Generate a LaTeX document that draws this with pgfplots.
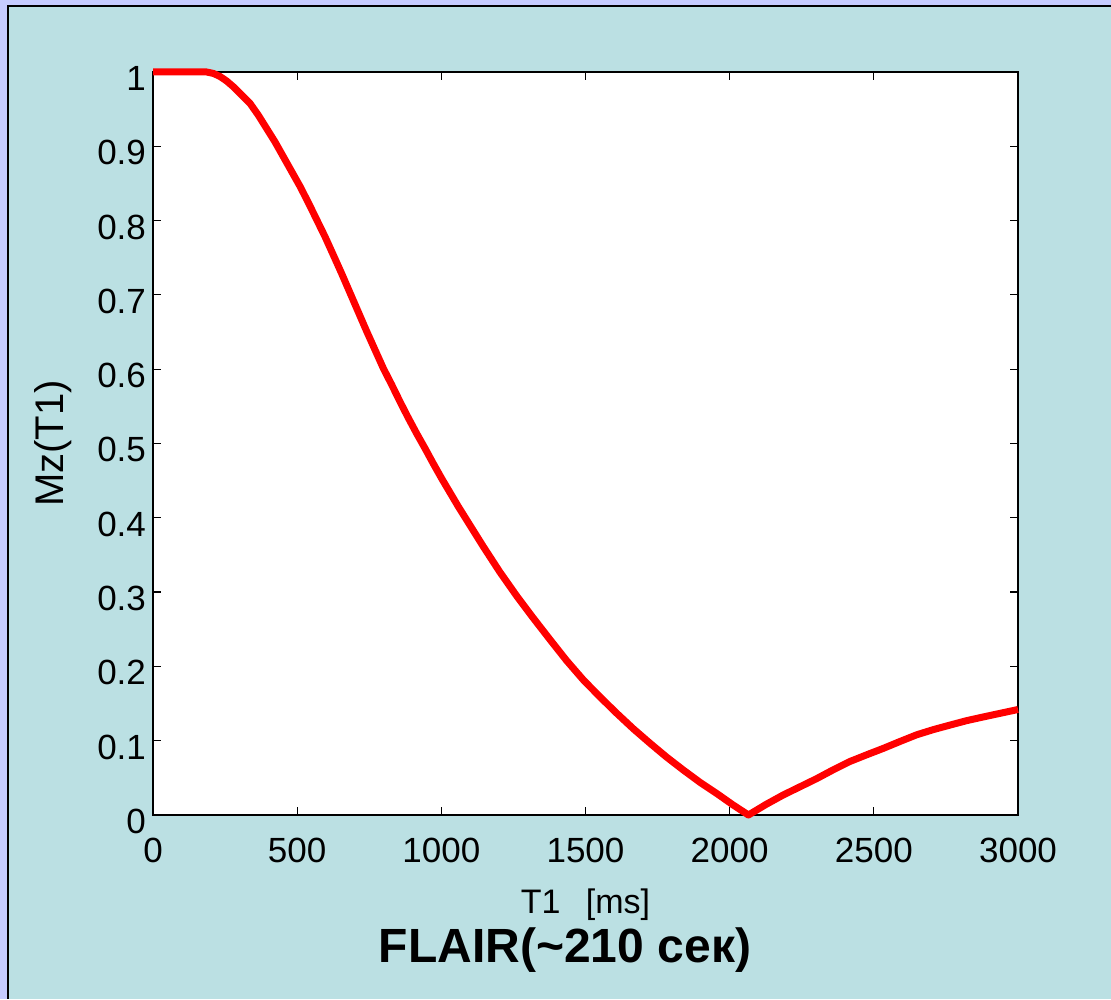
\documentclass[border=0pt]{standalone}
\usepackage{fontspec}
\setmainfont{Liberation Sans}
\usepackage{pgfplots}
\pgfplotsset{compat=1.18}
\definecolor{bgblue}{RGB}{187,224,227}
\definecolor{lav}{RGB}{198,204,255}
\begin{document}
\begin{tikzpicture}
\fill[lav] (-76.5pt,-92pt) rectangle (479pt,407.5pt);
\fill[black] (-73pt,-92pt) rectangle (479pt,405pt);
\fill[bgblue] (-72pt,-92pt) rectangle (479pt,404pt);
\begin{axis}[
  at={(0,0)}, anchor=south west,
  scale only axis, width=432.5pt, height=371.5pt,
  xmin=0, xmax=3000, ymin=0, ymax=1,
  axis background/.style={fill=white},
  clip=false,
  xtick={0,500,...,3000},
  ytick={0,0.1,...,1.0},
  yticklabels={0,0.1,0.2,0.3,0.4,0.5,0.6,0.7,0.8,0.9,1},
  tick align=inside,
  major tick length=4pt,
  tick style={black, line width=0.6pt},
  axis line style={black, line width=1pt},
  /pgf/number format/assume math mode=true,
  /pgf/number format/1000 sep={},
  ticklabel style={font=\fontsize{17.5}{20}\selectfont},
  xticklabel style={yshift=-8pt},
  yticklabel style={yshift=-3.2pt},
  every axis x label/.style={at={(axis description cs:0.5,-0.1211)}, anchor=center, font=\fontsize{17}{20}\selectfont},
  every axis y label/.style={at={(axis description cs:-0.1156,0.5)}, anchor=center, rotate=90, font=\fontsize{20}{23}\selectfont},
  xlabel={T1\hspace{0.75em}[ms]},
  ylabel={Mz(T1)},
]
\addplot[red, line width=3.5pt, line join=round] coordinates {
(0,1) (186,1) (210,0.998) (232,0.994) (255,0.988) (279,0.980) (305,0.970)
(336,0.958) (365,0.942) (394,0.924) (423,0.906) (452,0.886) (481,0.866)
(510,0.846) (539,0.824) (568,0.801) (597,0.778) (625,0.754) (654,0.729)
(683,0.703) (712,0.677) (741,0.651) (770,0.626) (799,0.601) (828,0.579)
(857,0.556) (886,0.534) (915,0.513) (944,0.493) (972,0.473) (1001,0.453)
(1030,0.434) (1059,0.415) (1088,0.397) (1117,0.379) (1146,0.361) (1203,0.327)
(1261,0.295) (1319,0.265) (1377,0.236) (1434,0.208) (1492,0.182) (1550,0.159)
(1608,0.137) (1666,0.116) (1724,0.0965) (1781,0.078) (1839,0.0606) (1897,0.044)
(1955,0.029) (2010,0.014) (2065,0) (2125,0.014) (2186,0.027) (2244,0.038)
(2302,0.049) (2360,0.061) (2417,0.072) (2475,0.081) (2533,0.0897) (2591,0.099)
(2649,0.108) (2707,0.115) (2764,0.121) (2822,0.127) (2880,0.132) (2940,0.137)
(3000,0.142)
};
\end{axis}
\node[font=\bfseries\fontsize{24}{28}\selectfont] at (206pt,-67.5pt) {FLAIR(\textasciitilde210 сек)};
\pgfresetboundingbox
\useasboundingbox (-76.5pt,-92pt) rectangle (479pt,407.5pt);
\end{tikzpicture}
\end{document}
